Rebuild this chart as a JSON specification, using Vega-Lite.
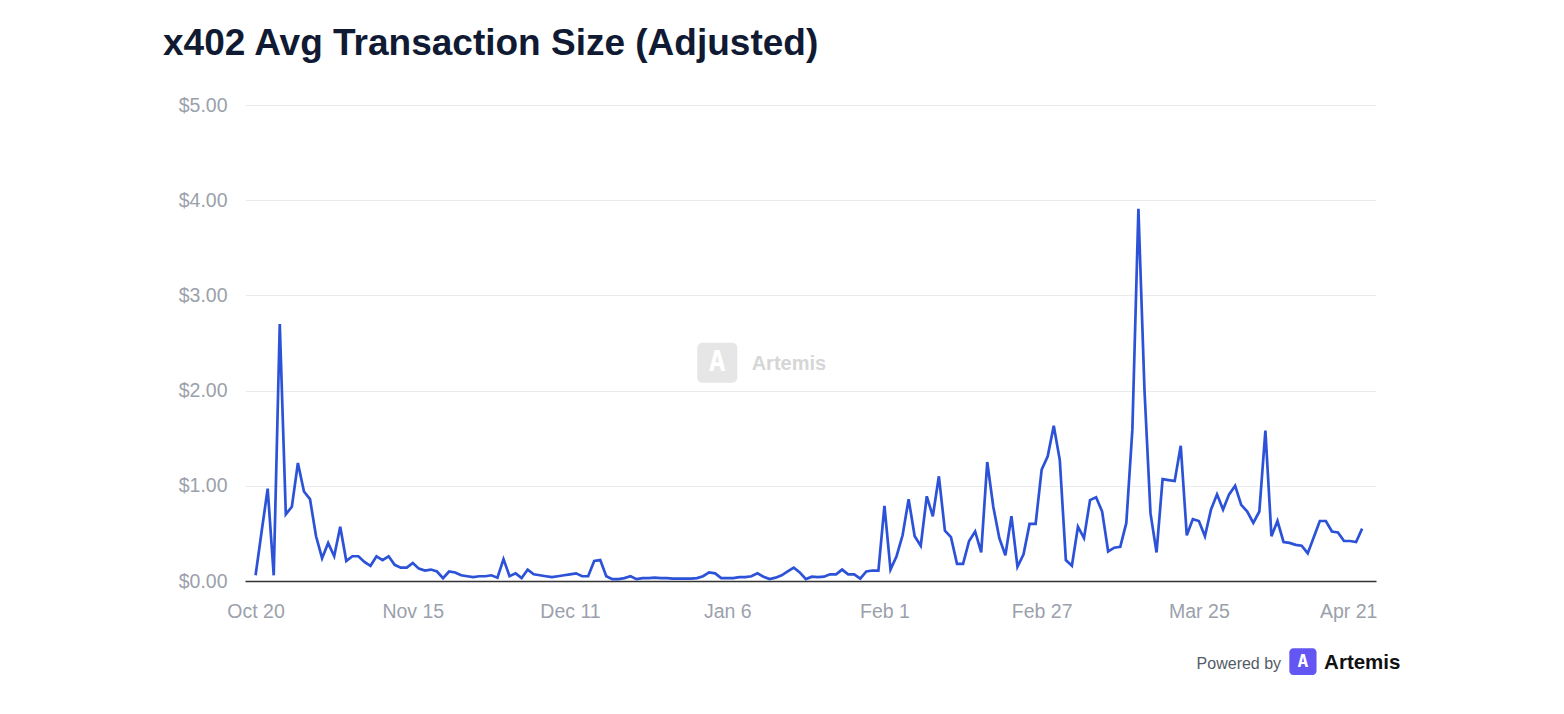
{
  "$schema": "https://vega.github.io/schema/vega-lite/v6.json",
  "autosize": "none",
  "padding": {"left": 245, "top": 105, "right": 188, "bottom": 133},
  "width": 1131,
  "height": 476,
  "background": "white",
  "title": {
    "text": "x402 Avg Transaction Size (Adjusted)",
    "anchor": "start",
    "frame": "group",
    "dx": -82,
    "offset": 3,
    "baseline": "alphabetic",
    "font": "Liberation Sans",
    "fontSize": 37,
    "fontWeight": "bold",
    "color": "#101a33"
  },
  "config": {
    "view": {"stroke": null},
    "font": "Liberation Sans"
  },
  "layer": [
    {
      "data": {
        "values": [
          {"d": "2025-10-20", "v": 0.06}, {"d": "2025-10-21", "v": 0.52}, {"d": "2025-10-22", "v": 0.97}, {"d": "2025-10-23", "v": 0.06},
          {"d": "2025-10-24", "v": 2.70}, {"d": "2025-10-25", "v": 0.70}, {"d": "2025-10-26", "v": 0.78}, {"d": "2025-10-27", "v": 1.24},
          {"d": "2025-10-28", "v": 0.94}, {"d": "2025-10-29", "v": 0.86}, {"d": "2025-10-30", "v": 0.47}, {"d": "2025-10-31", "v": 0.24},
          {"d": "2025-11-01", "v": 0.40}, {"d": "2025-11-02", "v": 0.26}, {"d": "2025-11-03", "v": 0.57}, {"d": "2025-11-04", "v": 0.21},
          {"d": "2025-11-05", "v": 0.26}, {"d": "2025-11-06", "v": 0.26}, {"d": "2025-11-07", "v": 0.20}, {"d": "2025-11-08", "v": 0.16},
          {"d": "2025-11-09", "v": 0.26}, {"d": "2025-11-10", "v": 0.22}, {"d": "2025-11-11", "v": 0.26}, {"d": "2025-11-12", "v": 0.17},
          {"d": "2025-11-13", "v": 0.14}, {"d": "2025-11-14", "v": 0.14}, {"d": "2025-11-15", "v": 0.19}, {"d": "2025-11-16", "v": 0.13},
          {"d": "2025-11-17", "v": 0.11}, {"d": "2025-11-18", "v": 0.12}, {"d": "2025-11-19", "v": 0.10}, {"d": "2025-11-20", "v": 0.03},
          {"d": "2025-11-21", "v": 0.10}, {"d": "2025-11-22", "v": 0.09}, {"d": "2025-11-23", "v": 0.06}, {"d": "2025-11-24", "v": 0.05},
          {"d": "2025-11-25", "v": 0.04}, {"d": "2025-11-26", "v": 0.05}, {"d": "2025-11-27", "v": 0.05}, {"d": "2025-11-28", "v": 0.06},
          {"d": "2025-11-29", "v": 0.035}, {"d": "2025-11-30", "v": 0.23}, {"d": "2025-12-01", "v": 0.05}, {"d": "2025-12-02", "v": 0.08},
          {"d": "2025-12-03", "v": 0.03}, {"d": "2025-12-04", "v": 0.12}, {"d": "2025-12-05", "v": 0.07}, {"d": "2025-12-06", "v": 0.06},
          {"d": "2025-12-07", "v": 0.05}, {"d": "2025-12-08", "v": 0.04}, {"d": "2025-12-09", "v": 0.05}, {"d": "2025-12-10", "v": 0.06},
          {"d": "2025-12-11", "v": 0.07}, {"d": "2025-12-12", "v": 0.08}, {"d": "2025-12-13", "v": 0.05}, {"d": "2025-12-14", "v": 0.05},
          {"d": "2025-12-15", "v": 0.21}, {"d": "2025-12-16", "v": 0.22}, {"d": "2025-12-17", "v": 0.05}, {"d": "2025-12-18", "v": 0.02},
          {"d": "2025-12-19", "v": 0.02}, {"d": "2025-12-20", "v": 0.03}, {"d": "2025-12-21", "v": 0.05}, {"d": "2025-12-22", "v": 0.02},
          {"d": "2025-12-23", "v": 0.03}, {"d": "2025-12-24", "v": 0.03}, {"d": "2025-12-25", "v": 0.035}, {"d": "2025-12-26", "v": 0.03},
          {"d": "2025-12-27", "v": 0.03}, {"d": "2025-12-28", "v": 0.025}, {"d": "2025-12-29", "v": 0.025}, {"d": "2025-12-30", "v": 0.025},
          {"d": "2025-12-31", "v": 0.025}, {"d": "2026-01-01", "v": 0.03}, {"d": "2026-01-02", "v": 0.05}, {"d": "2026-01-03", "v": 0.09},
          {"d": "2026-01-04", "v": 0.08}, {"d": "2026-01-05", "v": 0.03}, {"d": "2026-01-06", "v": 0.03}, {"d": "2026-01-07", "v": 0.03},
          {"d": "2026-01-08", "v": 0.04}, {"d": "2026-01-09", "v": 0.04}, {"d": "2026-01-10", "v": 0.05}, {"d": "2026-01-11", "v": 0.08},
          {"d": "2026-01-12", "v": 0.045}, {"d": "2026-01-13", "v": 0.02}, {"d": "2026-01-14", "v": 0.035}, {"d": "2026-01-15", "v": 0.06},
          {"d": "2026-01-16", "v": 0.10}, {"d": "2026-01-17", "v": 0.14}, {"d": "2026-01-18", "v": 0.09}, {"d": "2026-01-19", "v": 0.02},
          {"d": "2026-01-20", "v": 0.045}, {"d": "2026-01-21", "v": 0.04}, {"d": "2026-01-22", "v": 0.045}, {"d": "2026-01-23", "v": 0.07},
          {"d": "2026-01-24", "v": 0.07}, {"d": "2026-01-25", "v": 0.12}, {"d": "2026-01-26", "v": 0.07}, {"d": "2026-01-27", "v": 0.07},
          {"d": "2026-01-28", "v": 0.025}, {"d": "2026-01-29", "v": 0.10}, {"d": "2026-01-30", "v": 0.11}, {"d": "2026-01-31", "v": 0.11},
          {"d": "2026-02-01", "v": 0.79}, {"d": "2026-02-02", "v": 0.12}, {"d": "2026-02-03", "v": 0.26}, {"d": "2026-02-04", "v": 0.48},
          {"d": "2026-02-05", "v": 0.86}, {"d": "2026-02-06", "v": 0.47}, {"d": "2026-02-07", "v": 0.37}, {"d": "2026-02-08", "v": 0.89},
          {"d": "2026-02-09", "v": 0.68}, {"d": "2026-02-10", "v": 1.10}, {"d": "2026-02-11", "v": 0.53}, {"d": "2026-02-12", "v": 0.46},
          {"d": "2026-02-13", "v": 0.18}, {"d": "2026-02-14", "v": 0.18}, {"d": "2026-02-15", "v": 0.42}, {"d": "2026-02-16", "v": 0.52},
          {"d": "2026-02-17", "v": 0.30}, {"d": "2026-02-18", "v": 1.25}, {"d": "2026-02-19", "v": 0.78}, {"d": "2026-02-20", "v": 0.45},
          {"d": "2026-02-21", "v": 0.27}, {"d": "2026-02-22", "v": 0.68}, {"d": "2026-02-23", "v": 0.15}, {"d": "2026-02-24", "v": 0.28},
          {"d": "2026-02-25", "v": 0.60}, {"d": "2026-02-26", "v": 0.60}, {"d": "2026-02-27", "v": 1.17}, {"d": "2026-02-28", "v": 1.31},
          {"d": "2026-03-01", "v": 1.63}, {"d": "2026-03-02", "v": 1.27}, {"d": "2026-03-03", "v": 0.22}, {"d": "2026-03-04", "v": 0.16},
          {"d": "2026-03-05", "v": 0.57}, {"d": "2026-03-06", "v": 0.45}, {"d": "2026-03-07", "v": 0.85}, {"d": "2026-03-08", "v": 0.88},
          {"d": "2026-03-09", "v": 0.73}, {"d": "2026-03-10", "v": 0.31}, {"d": "2026-03-11", "v": 0.35}, {"d": "2026-03-12", "v": 0.36},
          {"d": "2026-03-13", "v": 0.61}, {"d": "2026-03-14", "v": 1.59}, {"d": "2026-03-15", "v": 3.91}, {"d": "2026-03-16", "v": 2.01},
          {"d": "2026-03-17", "v": 0.71}, {"d": "2026-03-18", "v": 0.30}, {"d": "2026-03-19", "v": 1.07}, {"d": "2026-03-20", "v": 1.06},
          {"d": "2026-03-21", "v": 1.05}, {"d": "2026-03-22", "v": 1.42}, {"d": "2026-03-23", "v": 0.48}, {"d": "2026-03-24", "v": 0.65},
          {"d": "2026-03-25", "v": 0.63}, {"d": "2026-03-26", "v": 0.47}, {"d": "2026-03-27", "v": 0.75}, {"d": "2026-03-28", "v": 0.91},
          {"d": "2026-03-29", "v": 0.75}, {"d": "2026-03-30", "v": 0.91}, {"d": "2026-03-31", "v": 1.00}, {"d": "2026-04-01", "v": 0.80},
          {"d": "2026-04-02", "v": 0.73}, {"d": "2026-04-03", "v": 0.61}, {"d": "2026-04-04", "v": 0.73}, {"d": "2026-04-05", "v": 1.58},
          {"d": "2026-04-06", "v": 0.47}, {"d": "2026-04-07", "v": 0.63}, {"d": "2026-04-08", "v": 0.41}, {"d": "2026-04-09", "v": 0.40},
          {"d": "2026-04-10", "v": 0.38}, {"d": "2026-04-11", "v": 0.37}, {"d": "2026-04-12", "v": 0.29}, {"d": "2026-04-13", "v": 0.46},
          {"d": "2026-04-14", "v": 0.63}, {"d": "2026-04-15", "v": 0.63}, {"d": "2026-04-16", "v": 0.52}, {"d": "2026-04-17", "v": 0.51},
          {"d": "2026-04-18", "v": 0.42}, {"d": "2026-04-19", "v": 0.42}, {"d": "2026-04-20", "v": 0.41}, {"d": "2026-04-21", "v": 0.55}
        ]
      },
      "mark": {"type": "line", "color": "#2c52d8", "strokeWidth": 2.7, "strokeJoin": "miter"},
      "encoding": {
        "x": {
          "field": "d",
          "type": "temporal",
          "scale": {
            "type": "utc",
            "domain": [
              {"year": 2025, "month": 10, "date": 18, "hours": 6, "utc": true},
              {"year": 2026, "month": 4, "date": 23, "hours": 7, "utc": true}
            ],
            "nice": false
          },
          "axis": {
            "title": null,
            "values": [
              {"year": 2025, "month": 10, "date": 20, "utc": true},
              {"year": 2025, "month": 11, "date": 15, "utc": true},
              {"year": 2025, "month": 12, "date": 11, "utc": true},
              {"year": 2026, "month": 1, "date": 6, "utc": true},
              {"year": 2026, "month": 2, "date": 1, "utc": true},
              {"year": 2026, "month": 2, "date": 27, "utc": true},
              {"year": 2026, "month": 3, "date": 25, "utc": true},
              {"year": 2026, "month": 4, "date": 21, "utc": true}
            ],
            "format": "%b %-d",
            "grid": false,
            "ticks": false,
            "domainColor": "#333333",
            "domainWidth": 1.5,
            "labelColor": "#9ba1ab",
            "labelFontSize": 19.5,
            "labelPadding": 21,
            "labelFlush": false,
            "labelOverlap": false,
            "labelOffset": {"condition": {"test": "utcmonth(datum.value) === 3", "value": -14}, "value": 0}
          }
        },
        "y": {
          "field": "v",
          "type": "quantitative",
          "scale": {"domain": [0, 5], "nice": false},
          "axis": {
            "title": null,
            "values": [0, 1, 2, 3, 4, 5],
            "format": "$.2f",
            "domain": false,
            "ticks": false,
            "gridColor": "#ebebeb",
            "gridWidth": 1,
            "labelColor": "#9ba1ab",
            "labelFontSize": 19.5,
            "labelPadding": 18
          }
        }
      }
    },
    {
      "data": {"values": [{}]},
      "mark": {"type": "rect", "color": "#e6e6e6", "cornerRadius": 5},
      "encoding": {
        "x": {"datum": {"year": 2026, "month": 1, "date": 1, "hours": 1, "utc": true}, "type": "temporal"},
        "x2": {"datum": {"year": 2026, "month": 1, "date": 7, "hours": 16, "utc": true}},
        "y": {"datum": 2.503, "type": "quantitative"},
        "y2": {"datum": 2.083}
      }
    },
    {
      "data": {"values": [{}]},
      "mark": {"type": "text", "text": "A", "color": "#ffffff", "font": "DejaVu Sans Mono", "fontWeight": "bold", "fontSize": 28, "align": "center", "baseline": "middle"},
      "encoding": {
        "x": {"datum": {"year": 2026, "month": 1, "date": 4, "hours": 8, "utc": true}, "type": "temporal"},
        "y": {"datum": 2.29, "type": "quantitative"}
      }
    },
    {
      "data": {"values": [{}]},
      "mark": {"type": "text", "text": "Artemis", "color": "#d6d6d6", "fontWeight": "bold", "fontSize": 20, "align": "left", "baseline": "alphabetic"},
      "encoding": {
        "x": {"datum": {"year": 2026, "month": 1, "date": 10, "hours": 1, "utc": true}, "type": "temporal"},
        "y": {"datum": 2.216, "type": "quantitative"}
      }
    },
    {
      "data": {"values": [{}]},
      "mark": {"type": "text", "text": "Powered by", "color": "#555b66", "fontSize": 16, "align": "left", "baseline": "alphabetic"},
      "encoding": {
        "x": {"datum": {"year": 2026, "month": 3, "date": 24, "hours": 15, "utc": true}, "type": "temporal"},
        "y": {"datum": -0.924, "type": "quantitative"}
      }
    },
    {
      "data": {"values": [{}]},
      "mark": {"type": "rect", "color": "#6356f2", "cornerRadius": 4},
      "encoding": {
        "x": {"datum": {"year": 2026, "month": 4, "date": 8, "hours": 23, "utc": true}, "type": "temporal"},
        "x2": {"datum": {"year": 2026, "month": 4, "date": 13, "hours": 11, "utc": true}},
        "y": {"datum": -0.707, "type": "quantitative"},
        "y2": {"datum": -0.987}
      }
    },
    {
      "data": {"values": [{}]},
      "mark": {"type": "text", "text": "A", "color": "#ffffff", "font": "DejaVu Sans Mono", "fontWeight": "bold", "fontSize": 18, "align": "center", "baseline": "middle"},
      "encoding": {
        "x": {"datum": {"year": 2026, "month": 4, "date": 11, "hours": 5, "utc": true}, "type": "temporal"},
        "y": {"datum": -0.847, "type": "quantitative"}
      }
    },
    {
      "data": {"values": [{}]},
      "mark": {"type": "text", "text": "Artemis", "color": "#111111", "fontWeight": "bold", "fontSize": 20.5, "align": "left", "baseline": "alphabetic"},
      "encoding": {
        "x": {"datum": {"year": 2026, "month": 4, "date": 14, "hours": 17, "utc": true}, "type": "temporal"},
        "y": {"datum": -0.924, "type": "quantitative"}
      }
    }
  ]
}
